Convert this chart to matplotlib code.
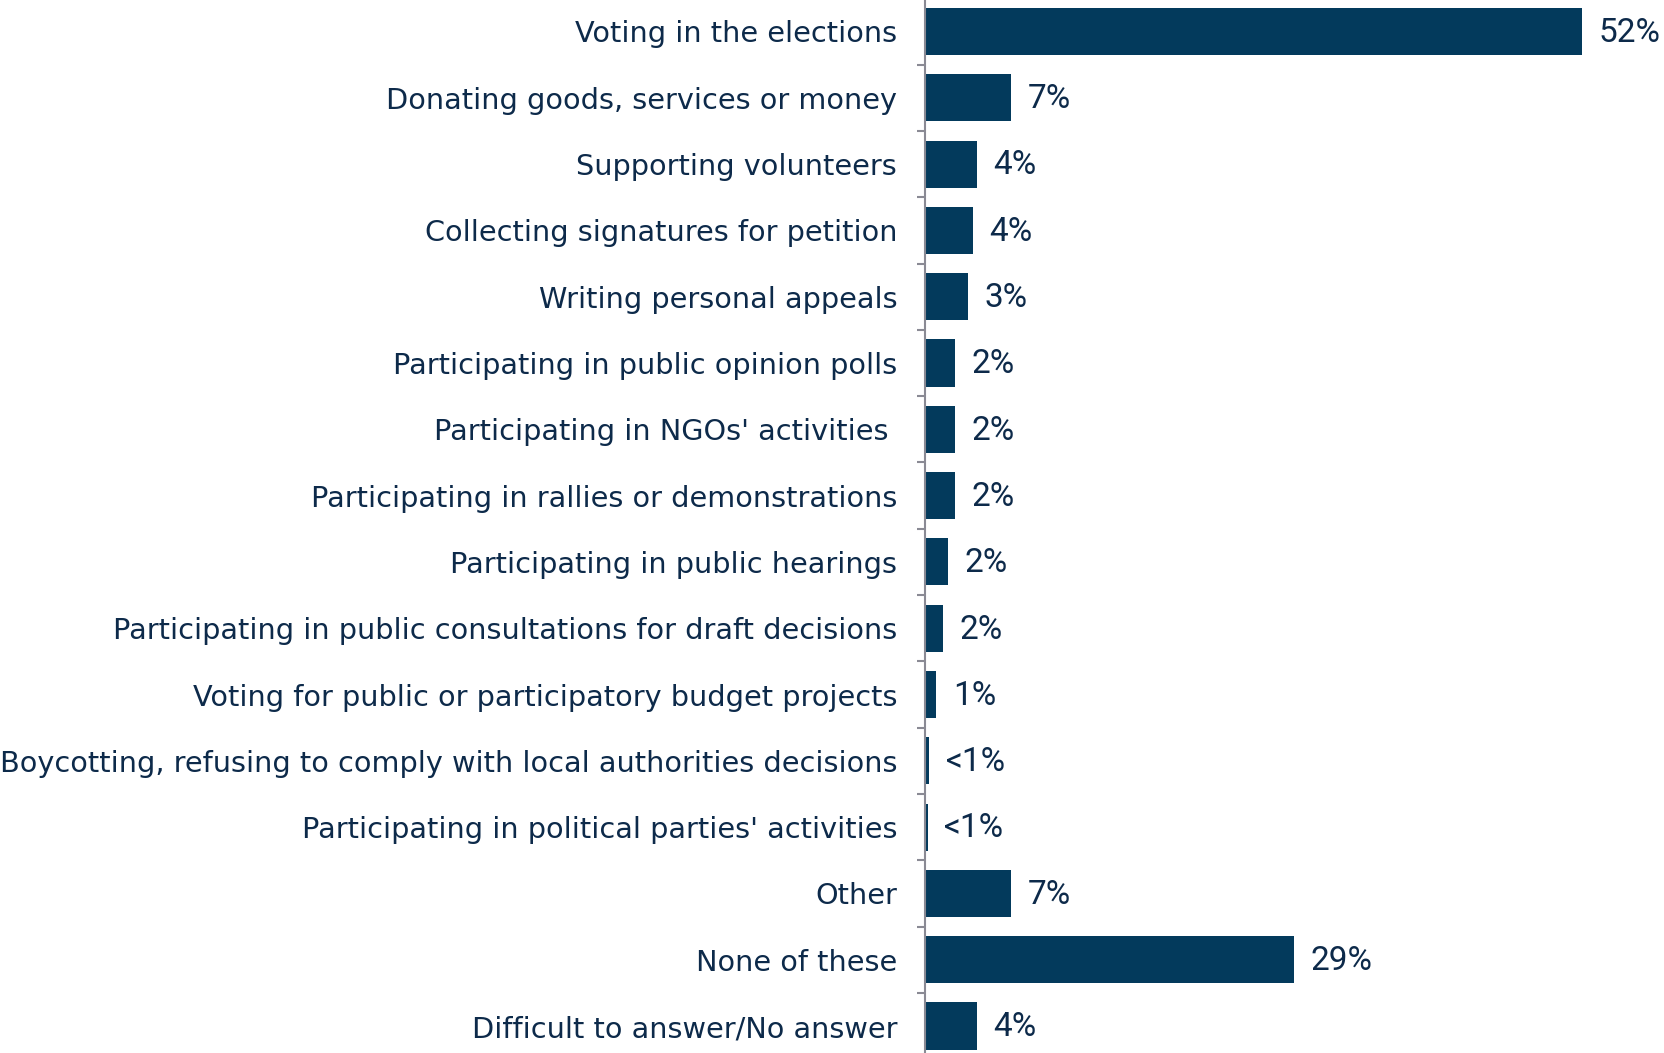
import matplotlib
matplotlib.use("Agg")
import matplotlib.pyplot as plt
import numpy as np

categories = [
    "Voting in the elections",
    "Donating goods, services or money",
    "Supporting volunteers",
    "Collecting signatures for petition",
    "Writing personal appeals",
    "Participating in public opinion polls",
    "Participating in NGOs' activities ",
    "Participating in rallies or demonstrations",
    "Participating in public hearings",
    "Participating in public consultations for draft decisions",
    "Voting for public or participatory budget projects",
    "Boycotting, refusing to comply with local authorities decisions",
    "Participating in political parties' activities",
    "Other",
    "None of these",
    "Difficult to answer/No answer",
]
values = [52.0, 6.8, 4.1, 3.8, 3.4, 2.35, 2.35, 2.35, 1.8, 1.4, 0.9, 0.35, 0.2, 6.8, 29.2, 4.1]
value_labels = ["52%", "7%", "4%", "4%", "3%", "2%", "2%", "2%", "2%", "2%", "1%",
                "<1%", "<1%", "7%", "29%", "4%"]

bar_color = "#033a5c"
text_color = "#0d2a4a"
axis_color = "#8a8a94"

W, H = 1665, 1053
fig = plt.figure(figsize=(W / 100, H / 100), dpi=100)
left_px = 925
pitch = 66.3
top_c = 31.5
n = len(categories)
ax_top = top_c - pitch / 2
ax_bot = ax_top + n * pitch
ax = fig.add_axes([left_px / W, 1 - ax_bot / H, 1 - left_px / W, (ax_bot - ax_top) / H])

y = np.arange(n)
ax.barh(y, values, height=0.71, color=bar_color, zorder=2)
ax.set_ylim(n - 0.5, -0.5)
ax.set_xlim(0, (W - left_px) / ((1582 - left_px) / 52.0))

for yi, v, lab in zip(y, values, value_labels):
    ax.annotate(lab, (v, yi), xytext=(12, -1), textcoords="offset points",
                va="center", ha="left", fontsize=24, color=text_color,
                family=["Roboto", "DejaVu Sans"])

ax.set_yticks(y)
ax.set_yticklabels(categories, fontsize=20.7, color=text_color, family="DejaVu Sans")
ax.tick_params(axis="y", which="major", length=0, pad=20)
ax.set_yticks(np.arange(n + 1) - 0.5, minor=True)
ax.tick_params(axis="y", which="minor", length=6, width=1.5, color=axis_color, direction="out")
ax.set_xticks([])
for s in ["top", "right", "bottom"]:
    ax.spines[s].set_visible(False)
ax.spines["left"].set_color(axis_color)
ax.spines["left"].set_linewidth(1.5)

fig.savefig("out.png", dpi=100)
